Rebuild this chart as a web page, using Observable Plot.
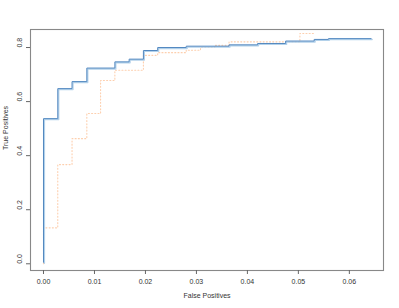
<!DOCTYPE html>
<html>
<head>
<meta charset="utf-8">
<script src="https://cdn.jsdelivr.net/npm/d3@7"></script>
<script src="https://cdn.jsdelivr.net/npm/@observablehq/plot@0.6"></script>
<style>
  html, body { margin: 0; padding: 0; background: #fff; }
  #chart svg { display: block; }
</style>
</head>
<body>
<div id="chart"></div>
<script>
// Series A (solid blue)
const blueFPR = [0, 0, 0.0028, 0.0056, 0.0085, 0.014, 0.0168, 0.0196, 0.0224, 0.028, 0.0364, 0.042, 0.0475, 0.0531, 0.0559, 0.0643];
const blueTPR = [0.005, 0.537, 0.648, 0.674, 0.724, 0.747, 0.757, 0.789, 0.800, 0.805, 0.810, 0.815, 0.824, 0.830, 0.833, 0.833];
// Series B (dotted orange)
const orangeFPR = [0, 0, 0.0028, 0.0056, 0.0085, 0.0112, 0.014, 0.0196, 0.0224, 0.028, 0.0308, 0.0336, 0.0364, 0.0503, 0.0532];
const orangeTPR = [0, 0.133, 0.367, 0.463, 0.556, 0.678, 0.716, 0.771, 0.781, 0.790, 0.800, 0.808, 0.821, 0.852, 0.852];
// Ticks
const xTicks = [0, 0.01, 0.02, 0.03, 0.04, 0.05, 0.06];
const yTicks = [0, 0.2, 0.4, 0.6, 0.8];
const xLabel = "False Positives";
const yLabel = "True Positives";

const blue = blueFPR.map((x, i) => ({x, y: blueTPR[i]}));
const orange = orangeFPR.map((x, i) => ({x, y: orangeTPR[i]}));

const font = "Liberation Sans, Arial, sans-serif";
const chart = Plot.plot({
  width: 399,
  height: 308,
  marginLeft: 30,
  marginRight: 16,
  marginTop: 29,
  marginBottom: 38,
  style: {fontFamily: font, fontSize: "7px", color: "#333", background: "#fff"},
  x: {domain: [-0.00255, 0.0667]},
  y: {domain: [-0.0248, 0.8667]},
  marks: [
    Plot.line(orange, {x: "x", y: "y", curve: "step-after", stroke: "#fdcfae", strokeWidth: 1.1, strokeDasharray: "1,2.2"}),
    Plot.line(blue, {x: "x", y: "y", curve: "step-after", stroke: "#b3d1ea", strokeWidth: 1.4, dx: 0.9, dy: 0.9}),
    Plot.line(blue, {x: "x", y: "y", curve: "step-after", stroke: "#5288c0", strokeWidth: 1}),
    Plot.frame({stroke: "#888", strokeWidth: 1.1}),
    Plot.axisX({ticks: xTicks, tickSize: 4, tickFormat: d3.format(".2f"), tickPadding: 5, stroke: "#666", fill: "#333", label: null}),
    Plot.axisY({ticks: yTicks, tickSize: 4, tickFormat: () => "", stroke: "#666", label: null}),
    Plot.text(yTicks, {y: d => d, text: d => d3.format(".1f")(d), frameAnchor: "left", dx: -11, rotate: -90, fill: "#333"}),
    Plot.text([xLabel], {frameAnchor: "bottom", dy: 27, text: d => d, fill: "#333"}),
    Plot.text([yLabel], {frameAnchor: "left", dx: -25, rotate: -90, text: d => d, fill: "#333"})
  ]
});
document.getElementById("chart").appendChild(chart);
</script>
</body>
</html>
